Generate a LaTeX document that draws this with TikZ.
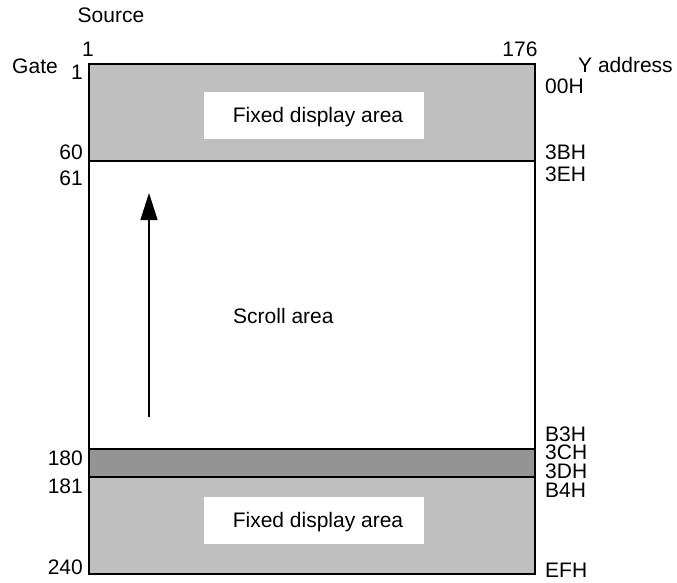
\documentclass[tikz,border=0pt]{standalone}
\usepackage{fontspec}
\setmainfont{Liberation Sans}
\usetikzlibrary{arrows.meta}

\begin{document}
\begin{tikzpicture}[x=1pt, y=-1pt,
    area/.style={draw=black, line width=1.3pt},
    fixbox/.style={fill=white, draw=none, minimum width=220pt, minimum height=47pt, inner sep=0pt},
    lbl/.style={font=\fontsize{21}{25}\selectfont, inner sep=0pt},
    leftlbl/.style={lbl, anchor=base east},
    rightlbl/.style={lbl, anchor=base west},
    arrow/.style={-{Triangle[length=27pt, width=17pt]}, line width=1.3pt}
]
\useasboundingbox (0,0) rectangle (677,583);

% Display areas
\filldraw[area, fill=gray!50] (89,64) rectangle (535,161);
\filldraw[area, fill=black!42] (89,449) rectangle (535,477);
\filldraw[area, fill=gray!50] (89,477) rectangle (535,574);
\draw[line width=2.6pt] (89,64) rectangle (535,574);

\node[fixbox] (fixtop) at (314,116) {};
\node[lbl, anchor=base] (fixtoptxt) at (318,123) {Fixed display area};
\node[fixbox] (fixbot) at (314,520.5) {};
\node[lbl, anchor=base] (fixbottxt) at (318,527) {Fixed display area};
\node[lbl, anchor=base west] (scroll) at (233,323) {Scroll area};

% Scroll direction
\coordinate (tail) at (149,417);
\coordinate (head) at (149,193);
\draw[arrow] (tail) -- (head);

% Source and gate headings
\node[lbl, anchor=base] (source) at (111,23) {Source};
\node[lbl, anchor=base] (src1) at (88,57) {1};
\node[lbl, anchor=base] (src176) at (520,57) {176};
\node[lbl, anchor=base] (gate) at (35,74) {Gate};
\node[rightlbl] (yaddr) at (578,73) {Y address};

% Gate numbers
\node[leftlbl] (g1) at (83,80) {1};
\node[leftlbl] (g60) at (83,159) {60};
\node[leftlbl] (g61) at (83,185) {61};
\node[leftlbl] (g180) at (83,465) {180};
\node[leftlbl] (g181) at (83,493) {181};
\node[leftlbl] (g240) at (83,574) {240};

% Y addresses
\node[rightlbl] (y00) at (545,94) {00H};
\node[rightlbl] (y3b) at (545,159) {3BH};
\node[rightlbl] (y3e) at (545,181) {3EH};
\node[rightlbl] (yb3) at (545,441) {B3H};
\node[rightlbl] (y3c) at (545,459) {3CH};
\node[rightlbl] (y3d) at (545,478) {3DH};
\node[rightlbl] (yb4) at (545,497) {B4H};
\node[rightlbl] (yef) at (545,577) {EFH};

\end{tikzpicture}
\end{document}
